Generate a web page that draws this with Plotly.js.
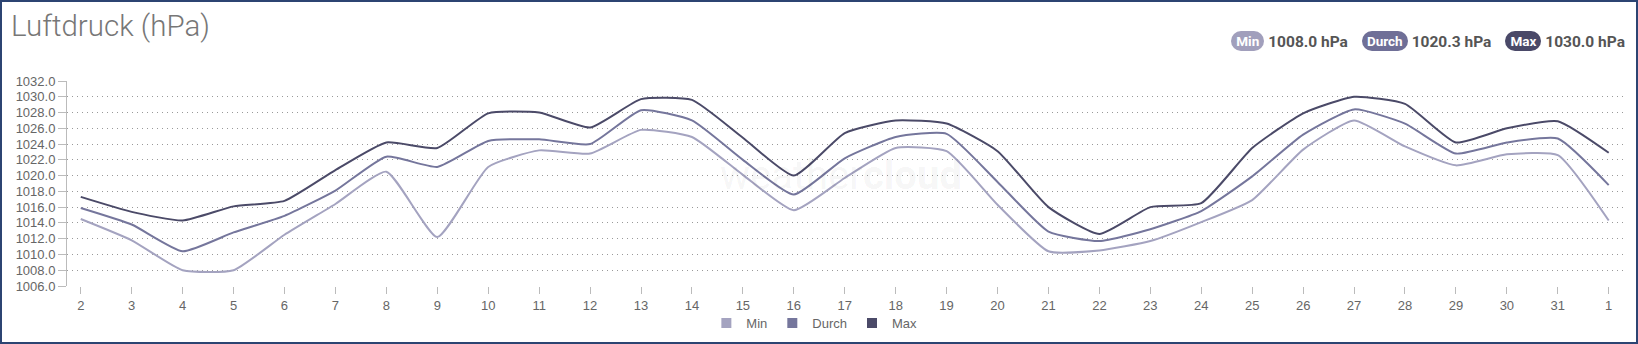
<!DOCTYPE html>
<html>
<head>
<meta charset="utf-8">
<script src="https://cdn.plot.ly/plotly-3.0.1.min.js"></script>
<style>
  html, body { margin: 0; padding: 0; background: #fff; }
  #wrap { position: relative; width: 1638px; height: 344px; overflow: hidden; }
  #chart { position: absolute; left: 0; top: 0; width: 1638px; height: 344px; }
  #frame { position: absolute; left: 0; top: 0; width: 1638px; height: 344px; box-sizing: border-box;
           border: 2px solid #2c4472; pointer-events: none; }
  #stats { position: absolute; top: 31px; right: 13px; font-family: Roboto, "Liberation Sans", sans-serif;
           font-size: 15.5px; font-weight: bold; color: #555; white-space: nowrap; }
  .pill { display: inline-block; color: #fff; border-radius: 10px; padding: 1px 5px; font-size: 13.5px;
          line-height: 18px; margin-right: 4px; vertical-align: 1px; }
  .val { margin-right: 14px; }
  .val:last-child { margin-right: 0; }
</style>
</head>
<body>
<div id="wrap">
  <div id="chart"></div>
  <div id="stats"></div>
  <div id="frame"></div>
</div>
<script>
// Categories (day of month)
const days = ["2","3","4","5","6","7","8","9","10","11","12","13","14","15","16","17","18","19","20","21","22","23","24","25","26","27","28","29","30","31","1"];

// Series values (hPa)
const minVals = [1014.5,1011.8,1008.0,1008.0,1012.5,1016.4,1020.5,1012.2,1021.1,1023.2,1022.8,1025.8,1024.9,1020.1,1015.6,1019.7,1023.5,1023.1,1016.3,1010.4,1010.5,1011.7,1014.1,1016.9,1023.3,1027.0,1023.7,1021.3,1022.7,1022.6,1014.3];
const avgVals = [1015.9,1013.8,1010.4,1012.8,1014.9,1018.1,1022.4,1021.1,1024.4,1024.6,1024.0,1028.3,1027.0,1022.0,1017.6,1022.2,1024.9,1025.3,1019.2,1012.9,1011.7,1013.2,1015.5,1019.9,1025.2,1028.4,1026.6,1022.8,1024.2,1024.7,1018.8];
const maxVals = [1017.3,1015.4,1014.3,1016.1,1016.8,1020.7,1024.2,1023.5,1027.9,1028.0,1026.1,1029.7,1029.6,1024.8,1020.0,1025.4,1027.0,1026.6,1023.1,1016.0,1012.6,1016.0,1016.5,1023.5,1027.9,1030.0,1029.1,1024.2,1026.0,1026.9,1022.9];

// Series names, summary labels, y tick values
const seriesNames = ["Min", "Durch", "Max"];
const summaryText = ["1008.0 hPa", "1020.3 hPa", "1030.0 hPa"];
const yTicks = [1006,1008,1010,1012,1014,1016,1018,1020,1022,1024,1026,1028,1030,1032];

const colors = ["#a4a3c0", "#75769c", "#4b4a68"];
const pillColors = ["#a19fbc", "#6f6f97", "#4a4968"];
const seriesVals = [minVals, avgVals, maxVals];

const traces = [];
seriesVals.forEach((vals, i) => {
  traces.push({
    x: days, y: vals, type: "scatter", mode: "lines", name: seriesNames[i],
    line: { color: colors[i], width: 2, shape: "spline", smoothing: 0.5 },
    showlegend: false, hoverinfo: "x+y+name"
  });
});
seriesVals.forEach((vals, i) => {
  traces.push({
    x: [null], y: [null], type: "scatter", mode: "markers", name: seriesNames[i],
    marker: { color: colors[i], symbol: "square", size: 10 },
    showlegend: true, hoverinfo: "skip"
  });
});

const W = 1638, H = 344;
const mL = 67, mR = 14, mT = 81, mB = 58;

const layout = {
  width: W, height: H,
  margin: { l: mL, r: mR, t: mT, b: mB, pad: 0, autoexpand: false },
  paper_bgcolor: "#fff", plot_bgcolor: "#fff",
  font: { family: "Liberation Sans, Arial, sans-serif", size: 13, color: "#666" },
  title: {
    text: "Luftdruck (hPa)",
    font: { family: "Roboto, sans-serif", size: 29.5, color: "#777", weight: 300 },
    xref: "container", yref: "container", x: 11 / W, xanchor: "left",
    y: 1 - 15 / H, yanchor: "top"
  },
  xaxis: {
    type: "category", range: [-0.27, 30.3], automargin: false,
    showgrid: false, zeroline: false, showline: false,
    ticks: "outside", ticklen: 7, tickcolor: "#bbb", tickwidth: 1,
    tickfont: { size: 13, color: "#666" }, fixedrange: true
  },
  yaxis: {
    range: [1006, 1032], tickvals: yTicks, tickformat: ".1f", automargin: false,
    showgrid: true, gridcolor: "#999", griddash: "1px,4px", gridwidth: 1,
    zeroline: false, showline: true, linecolor: "#bbb", linewidth: 1,
    ticks: "outside", ticklen: 8, tickcolor: "#bbb",
    tickfont: { size: 13, color: "#666" }, fixedrange: true
  },
  legend: {
    orientation: "h", x: 0.48, xanchor: "center",
    yref: "container", y: 1 - 323 / H, yanchor: "middle",
    font: { size: 13, color: "#666" }, itemwidth: 30, tracegroupgap: 0,
    bgcolor: "rgba(0,0,0,0)"
  },
  annotations: [{
    text: "weather<b>cloud</b>", xref: "paper", yref: "paper",
    x: 0.497, y: 0.54, xanchor: "center", yanchor: "middle", showarrow: false,
    font: { family: "Roboto, sans-serif", size: 40, color: "rgba(0,0,0,0.05)" }
  }],
  showlegend: true
};

Plotly.newPlot("chart", traces, layout, { displayModeBar: false, staticPlot: true });

// Header summary pills
const stats = document.getElementById("stats");
seriesNames.forEach((n, i) => {
  const span = document.createElement("span");
  span.className = "val";
  span.innerHTML = '<span class="pill" style="background:' + pillColors[i] + '">' + n + '</span>' + summaryText[i];
  stats.appendChild(span);
});
</script>
</body>
</html>
